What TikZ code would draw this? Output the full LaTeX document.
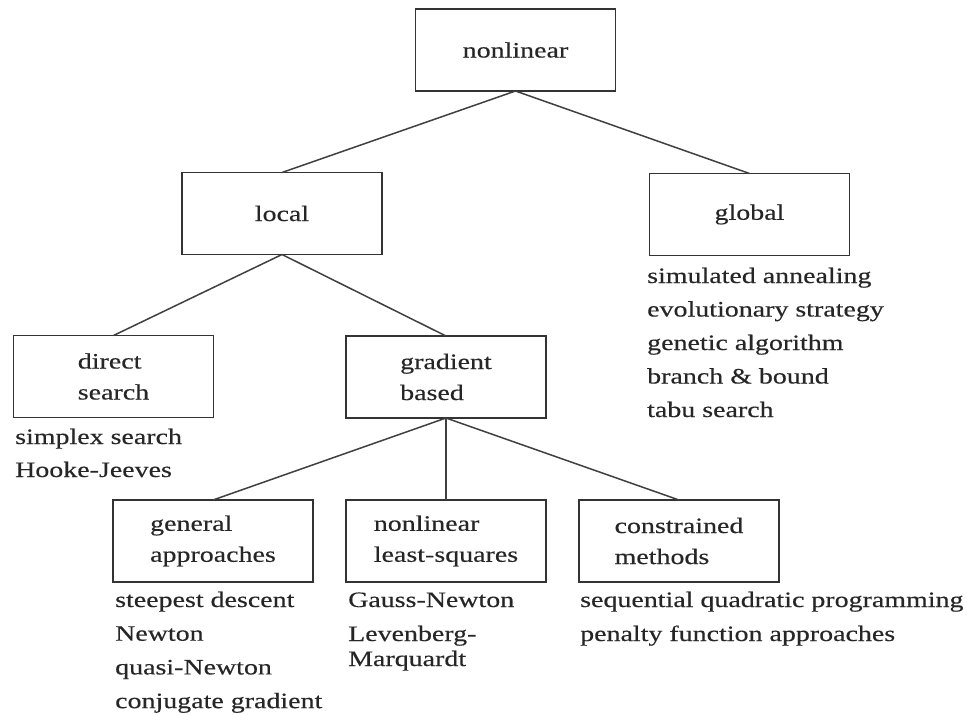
\documentclass[tikz,border=0pt]{standalone}
\usepackage{fontspec}
\setmainfont{Liberation Serif}[FakeStretch=1.27,FakeBold=0.3]
\begin{document}
\begin{tikzpicture}[x=1pt,y=-1pt,
    box/.style = {rectangle,draw=black!80,line width=1.8pt,minimum width=200pt,minimum height=82pt,align=left,
                  font=\fontsize{22}{31}\selectfont,text=black!85,outer sep=0mm},
    item/.style = {anchor=base west,inner sep=0pt,font=\fontsize{22}{26}\selectfont,text=black!85},
    link/.style = {draw=black!75,line width=1.5pt}]
\useasboundingbox[fill=white] (0,0) rectangle (967,715);
\node[box] (nonlin) at (515.5,50) {nonlinear};
\node[box] (local) at (282,213.5) {local};
\node[box] (global) at (749.5,214.5) {global};
\node[box] (direct) at (113.5,376.5) {direct\\search};
\node[box] (gradient) at (446,377) {gradient\\based};
\node[box] (general) at (213,541) {general\\approaches};
\node[box] (nls) at (446,541) {nonlinear\\least-squares};
\node[box] (constr) at (679,541) {constrained\\methods};
\draw[link] (nonlin.south) -- (local.north);
\draw[link] (nonlin.south) -- (global.north);
\draw[link] (local.south) -- (direct.north);
\draw[link] (local.south) -- (gradient.north);
\draw[link] (gradient.south) -- (general.north);
\draw[link] (gradient.south) -- (nls.north);
\draw[link] (gradient.south) -- (constr.north);
\foreach \t [count=\i from 0] in {simulated annealing,evolutionary strategy,genetic algorithm,branch \& bound,tabu search}
    \node[item] (glob\i) at (647,{283+33.5*\i}) {\t};
\foreach \t [count=\i from 0] in {simplex search,Hooke-Jeeves}
    \node[item] (dir\i) at (15,{444+33*\i}) {\t};
\foreach \t [count=\i from 0] in {steepest descent,Newton,quasi-Newton,conjugate gradient}
    \node[item] (gen\i) at (115,{607+33.7*\i}) {\t};
\foreach \y/\t [count=\i from 0] in {607/Gauss-Newton,641/Levenberg-,666/Marquardt}
    \node[item] (lsq\i) at (348,\y) {\t};
\foreach \t [count=\i from 0] in {sequential quadratic programming,penalty function approaches}
    \node[item] (con\i) at (580,{607+34*\i}) {\t};
\end{tikzpicture}
\end{document}
